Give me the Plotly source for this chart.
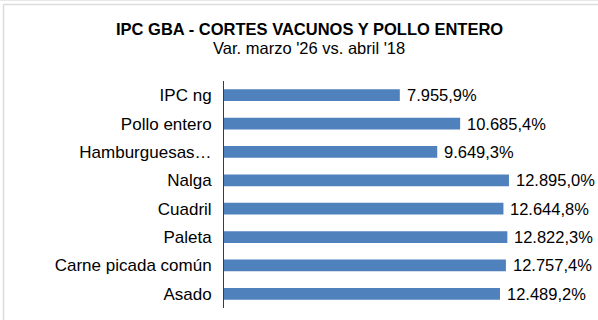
import plotly.graph_objects as go

categories = ["IPC ng", "Pollo entero", "Hamburguesas…", "Nalga", "Cuadril",
              "Paleta", "Carne picada común", "Asado"]
variation = [7955.9, 10685.4, 9649.3, 12895.0, 12644.8, 12822.3, 12757.4, 12489.2]

title_text = "IPC GBA - CORTES VACUNOS Y POLLO ENTERO"
subtitle_text = "Var. marzo '26 vs. abril '18"

W, H = 598, 320
L, R, T, B = 224, 18, 81, 12
FONT = "Liberation Sans, Arial, sans-serif"
BAR_COLOR = "#4F81BD"

fig = go.Figure(go.Bar(
    x=variation, y=categories, orientation="h",
    marker=dict(color=BAR_COLOR, line=dict(width=0)),
    width=0.41, hoverinfo="skip",
))

def fmt(v):
    s = f"{v:,.1f}"
    return s.replace(",", "X").replace(".", ",").replace("X", ".") + "%"

annotations = [
    dict(x=v, y=c, xref="x", yref="y", text=fmt(v), showarrow=False,
         xanchor="left", xshift=5, font=dict(family=FONT, size=16.5, color="#000"))
    for c, v in zip(categories, variation)
]

pw, ph = W - L - R, H - T - B
def px(xp):
    return (xp - L) / pw
def py(yp):
    return (H - B - yp) / ph

annotations += [
    dict(x=px(309), y=py(29), xref="paper", yref="paper", text=f"<b>{title_text}</b>",
         showarrow=False, xanchor="center", yanchor="middle",
         font=dict(family=FONT, size=16.5, color="#000")),
    dict(x=px(309), y=py(48), xref="paper", yref="paper", text=subtitle_text,
         showarrow=False, xanchor="center", yanchor="middle",
         font=dict(family=FONT, size=16.5, color="#000")),
]

frame = "#dcdcdc"
shapes = [
    dict(type="line", xref="paper", yref="paper", x0=px(0), x1=px(W), y0=py(0.5), y1=py(0.5),
         line=dict(color="#e8e8e8", width=1)),
    dict(type="line", xref="paper", yref="paper", x0=px(3.5), x1=px(W), y0=py(4.5), y1=py(4.5),
         line=dict(color=frame, width=1.5)),
    dict(type="line", xref="paper", yref="paper", x0=px(3.5), x1=px(3.5), y0=py(4.5), y1=py(H),
         line=dict(color=frame, width=1.5)),
]

fig.update_layout(
    width=W, height=H, margin=dict(l=L, r=R, t=T, b=B),
    paper_bgcolor="white", plot_bgcolor="white", showlegend=False,
    font=dict(family=FONT, size=17, color="#000"),
    bargap=0.59,
    xaxis=dict(range=[0, 16110], visible=False, fixedrange=True),
    yaxis=dict(autorange="reversed", showline=True, linecolor="#3a3a3a", linewidth=1,
               ticks="", showgrid=False, zeroline=False, ticklabelstandoff=8,
               tickfont=dict(family=FONT, size=17, color="#000")),
    annotations=annotations, shapes=shapes,
)

fig.write_html("out.html")
